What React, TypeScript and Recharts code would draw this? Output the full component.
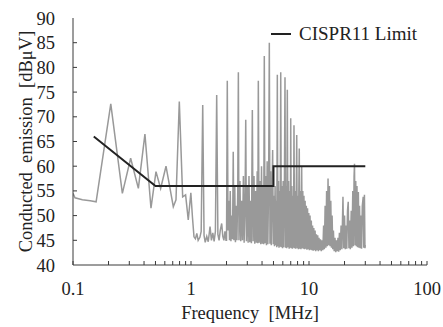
import { LineChart, Line, XAxis, YAxis, Legend } from "recharts";

const specFreq = [
  0.1, 0.104, 0.12, 0.14, 0.157, 0.209, 0.262, 0.308, 0.358, 0.407, 0.458, 0.505, 0.553, 0.614, 0.708, 0.746, 0.796, 0.85, 0.9, 0.948, 0.997,
  1.03, 1.06, 1.09, 1.12, 1.15, 1.19, 1.22, 1.257, 1.29, 1.32, 1.36, 1.4, 1.45, 1.49, 1.53, 1.57, 1.61, 1.651, 1.69, 1.73, 1.77, 1.82, 1.86, 1.9, 1.94, 1.98,
  2.0, 2.03, 2.06, 2.09, 2.12, 2.15, 2.18, 2.21, 2.25, 2.28, 2.31, 2.35, 2.38, 2.42, 2.45, 2.49, 2.52, 2.55, 2.6, 2.64, 2.69, 2.73, 2.78, 2.82, 2.87, 2.91,
  2.95, 3.0, 3.05, 3.1, 3.15, 3.2, 3.25, 3.31, 3.36, 3.42, 3.47, 3.53, 3.58, 3.64, 3.68, 3.72, 3.78, 3.84, 3.9, 3.96, 4.02, 4.08, 4.13, 4.18,
  4.24, 4.3, 4.36, 4.42, 4.48, 4.55, 4.61, 4.67, 4.73, 4.79, 4.86, 4.92, 4.98,
  5.04, 5.1, 5.16, 5.22, 5.28, 5.33, 5.39, 5.45, 5.51, 5.57, 5.63, 5.69, 5.76, 5.83, 5.9, 5.97, 6.04, 6.11, 6.18, 6.26, 6.33, 6.4, 6.47, 6.55,
  6.63, 6.71, 6.79, 6.87, 6.94, 7.0, 7.08, 7.16, 7.24, 7.32, 7.39, 7.46, 7.55, 7.63, 7.71, 7.79, 7.87, 7.95, 8.04, 8.13, 8.2, 8.27, 8.36, 8.45, 8.55, 8.67,
  8.76, 8.86, 8.96, 9.06, 9.16, 9.27, 9.38, 9.49, 9.6, 9.72, 9.84, 9.96, 10.08, 10.2, 10.33, 10.46, 10.59, 10.72, 10.85, 10.98, 11.12, 11.26, 11.4, 11.55,
  11.7, 11.85, 12.0, 12.15, 12.3, 12.5, 12.7, 12.9, 13.1, 13.3, 13.5, 13.7, 13.9, 14.1, 14.3, 14.5, 14.7, 14.9, 15.1, 15.3, 15.5, 15.7, 15.9, 16.1,
  16.35, 16.6, 16.85, 17.1, 17.35, 17.6, 17.85, 18.1, 18.4, 18.7, 19.0, 19.4, 19.7, 20.0, 20.3, 20.6, 20.9, 21.2, 21.5, 21.8, 22.1, 22.4, 22.8, 23.1,
  23.5, 23.8, 24.1, 24.3, 24.6, 24.9, 25.2, 25.5, 25.8, 26.2, 26.5, 26.8, 27.2, 27.5, 27.9, 28.3, 28.8, 29.1, 29.5, 29.8, 30.0,
];
const specLevel = [
  54.5, 53.6, 53.2, 53.0, 52.8, 72.6, 54.5, 61.6, 55.5, 66.5, 51.5, 58.9, 55.5, 60.0, 51.8, 53.2, 73.1, 53.8, 54.2, 49.1, 54.6,
  49.5, 45.7, 45.3, 46.4, 45.0, 45.6, 46.8, 72.4, 46.0, 44.6, 45.8, 44.7, 47.8, 45.0, 46.5, 44.8, 46.8, 74.4, 46.2, 45.0, 47.0, 48.4, 45.8, 45.0, 46.8, 45.0,
  45.0, 77.3, 47.0, 53.0, 45.0, 55.0, 44.8, 50.0, 45.2, 62.9, 45.0, 56.0, 44.6, 52.0, 45.0, 55.0, 79.0, 45.0, 57.0, 44.8, 53.0, 45.0, 58.0, 44.5, 52.0, 69.4,
  44.8, 56.0, 44.5, 58.0, 44.6, 53.0, 44.4, 71.4, 44.8, 58.0, 44.3, 55.0, 44.5, 59.0, 44.4, 77.3, 44.5, 57.0, 44.2, 60.0, 44.3, 56.0, 44.2, 82.3,
  44.4, 58.0, 44.0, 61.0, 44.2, 57.0, 85.0, 44.3, 59.0, 44.0, 55.0, 63.3, 44.2,
  54.0, 43.8, 56.0, 44.0, 53.0, 43.6, 78.5, 43.8, 57.0, 43.5, 55.0, 43.7, 79.0, 43.6, 56.0, 43.4, 57.0, 43.6, 54.0, 78.0, 43.5, 56.0, 43.4, 75.5,
  43.6, 57.0, 43.3, 55.0, 43.5, 69.7, 43.4, 56.0, 43.3, 54.0, 43.5, 68.3, 43.4, 55.0, 43.3, 53.0, 66.3, 43.4, 54.0, 43.2, 55.0, 63.6, 43.3, 55.0, 43.2, 59.9,
  43.4, 55.0, 43.3, 54.0, 43.2, 53.0, 43.3, 52.0, 43.1, 51.5, 43.2, 50.5, 43.0, 50.0, 43.1, 49.0, 43.0, 48.0, 42.9, 47.5, 43.0, 47.0, 42.8, 46.2,
  43.0, 46.0, 42.8, 45.5, 43.0, 45.2, 42.8, 45.0, 43.0, 48.0, 43.2, 52.0, 43.5, 55.0, 43.8, 57.5, 44.0, 56.0, 43.8, 53.0, 43.5, 50.0, 43.2, 47.0,
  42.8, 45.5, 42.6, 45.0, 42.8, 45.5, 42.7, 46.5, 43.0, 48.0, 43.2, 53.8, 43.4, 50.0, 43.2, 48.0, 43.3, 51.0, 52.8, 43.4, 49.0, 43.2, 51.0, 43.5,
  55.0, 43.8, 58.0, 60.5, 44.0, 57.0, 43.8, 56.0, 43.6, 54.8, 43.5, 52.0, 43.4, 50.0, 43.3, 52.0, 53.8, 43.5, 54.2, 43.4, 44.0,
];

// CISPR 11 limit
const limitFreq = [0.15, 0.5, 5, 5, 30];
const limitLevel = [66, 56, 56, 60, 60];

const xTicks = [
  0.1, 0.2, 0.3, 0.4, 0.5, 0.6, 0.7, 0.8, 0.9, 1, 2, 3, 4, 5, 6, 7, 8, 9, 10, 20, 30, 40, 50, 60, 70, 80, 90, 100,
];
const xLabels = [0.1, 1, 10, 100];
const yTicks = [40, 45, 50, 55, 60, 65, 70, 75, 80, 85, 90];

const spectrum = specFreq.map((f, i) => ({ f, v: specLevel[i] }));
const limit = limitFreq.map((f, i) => ({ f, v: limitLevel[i] }));

const FONT = "'Liberation Serif', 'Times New Roman', serif";
const INK = "#222";
const FRAME = "#3a3a3a";

// ticks point into the plot, as in the original figure
// eslint-disable-next-line @typescript-eslint/no-explicit-any
function XTick({ x, y, payload }: any) {
  const v = payload.value;
  return (
    <g>
      <line x1={x} x2={x} y1={y} y2={y - 4} stroke={FRAME} strokeWidth={1} />
      {xLabels.includes(v) && (
        <text x={x} y={y + 30} textAnchor="middle" fill={INK} fontSize={18.5} fontFamily={FONT}>{v}</text>
      )}
    </g>
  );
}

// eslint-disable-next-line @typescript-eslint/no-explicit-any
function YTick({ x, y, payload }: any) {
  const v = payload.value;
  return (
    <g>
      {v > 40 && v < 90 && <line x1={x + 18} x2={x + 22} y1={y} y2={y} stroke={FRAME} strokeWidth={1} />}
      <text x={x} y={y} dy={6.5} textAnchor="end" fill={INK} fontSize={18.5} fontFamily={FONT}>{v}</text>
    </g>
  );
}

const XTitle = () => (
  <text x={250} y={319} textAnchor="middle" fill={INK} fontSize={18.5} fontFamily={FONT}>Frequency&#160;&#160;[MHz]</text>
);

const YTitle = () => (
  <text x={32} y={141.5} transform="rotate(-90 32 141.5)" textAnchor="middle" fill={INK} fontSize={18.5} fontFamily={FONT}>
    Conducted&#160;&#160;emission&#160;&#160;[dBμV]
  </text>
);

export default function App() {
  return (
    <div style={{ position: "absolute", left: 0, top: 0, background: "#fff" }}>
      <LineChart width={443} height={327} margin={{ top: 18, right: 16, bottom: 0, left: 0 }}>
        <XAxis dataKey="f" type="number" scale="log" domain={[0.1, 100]} ticks={xTicks} interval={0} allowDataOverflow
          height={62} stroke={FRAME} tickLine={false} tickSize={0} tickMargin={0} tick={<XTick />} label={<XTitle />} />
        <XAxis xAxisId="top" orientation="top" dataKey="f" type="number" scale="log" domain={[0.1, 100]} allowDataOverflow
          height={0} stroke={FRAME} tick={false} tickLine={false} />
        <YAxis type="number" domain={[40, 90]} ticks={yTicks} interval={0} width={73} stroke={FRAME}
          tickLine={false} tickSize={0} tickMargin={18} tick={<YTick />} label={<YTitle />} />
        <YAxis yAxisId="right" orientation="right" type="number" domain={[40, 90]} width={0} stroke={FRAME} tick={false} tickLine={false} />
        <Legend layout="horizontal" verticalAlign="middle" align="center"
          wrapperStyle={{ top: 23, left: 270, width: 170, right: "auto", bottom: "auto" }}
          content={() => (
            <div style={{ display: "flex", alignItems: "center", fontFamily: FONT, fontSize: 19, color: INK, lineHeight: "22px" }}>
              <svg width={22} height={6}><line x1={1} x2={21} y1={3} y2={3} stroke={INK} strokeWidth={2} /></svg>
              <span style={{ marginLeft: 7 }}>CISPR11 Limit</span>
            </div>
          )} />
        <Line data={spectrum} dataKey="v" type="linear" stroke="#999" strokeWidth={1.5} dot={false}
          legendType="none" isAnimationActive={false} />
        <Line data={limit} dataKey="v" name="CISPR11 Limit" type="linear" stroke={INK} strokeWidth={2} dot={false}
          legendType="plainline" isAnimationActive={false} />
      </LineChart>
    </div>
  );
}
